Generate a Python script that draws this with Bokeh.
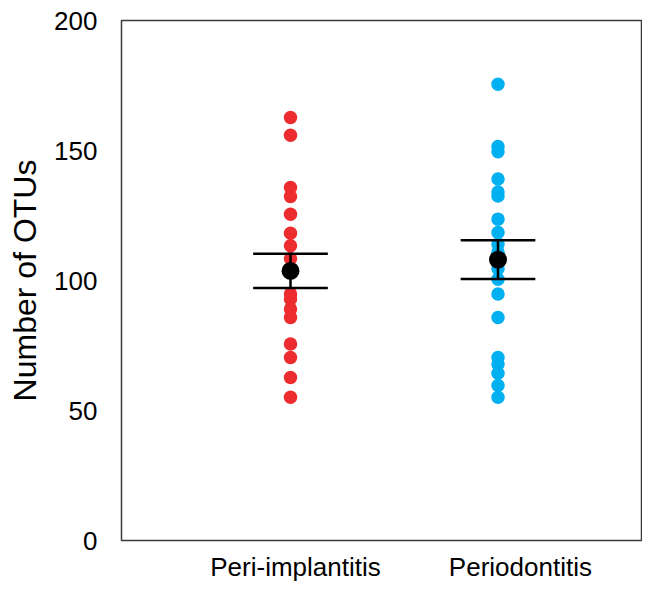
from bokeh.plotting import figure
from bokeh.models import FixedTicker, Range1d
from bokeh.embed import file_html
from bokeh.resources import INLINE

# ---- data ----
categories = ["Peri-implantitis", "Periodontitis"]
peri_implantitis = [162.7, 155.9, 135.8, 132.3, 125.5, 118.2, 113.4, 108.4,
                    94.8, 92.9, 89.0, 85.8, 75.6, 70.4, 62.7, 55.1]
periodontitis = [175.5, 151.5, 149.5, 139.0, 134.0, 132.5, 123.6, 118.5, 114.0,
                 111.0, 104.5, 100.5, 94.8, 85.8, 70.4, 67.9, 64.3, 59.6, 55.1]
group_means = [103.7, 108.0]
group_sems = [6.55, 7.45]
y_ticks = [0, 50, 100, 150, 200]

# ---- layout / style ----
FONT = "Liberation Sans"
colors = ["#ED2C2F", "#00B0F0"]
xpos = [1, 2]
label_pos = [1.024, 2.108]
cap_half = 0.18
X0, X1 = 0.1855, 2.6916

p = figure(width=642, height=584, output_backend="svg", toolbar_location=None,
           x_range=Range1d(X0, X1), y_range=Range1d(0, 200),
           min_border_left=121, min_border_right=1, min_border_top=20,
           min_border_bottom=44)

p.xgrid.visible = False
p.ygrid.visible = False
p.outline_line_color = "#3a3a3a"
p.outline_line_width = 1.5
p.background_fill_color = "white"
p.border_fill_color = "white"

for ax in (p.xaxis[0], p.yaxis[0]):
    ax.axis_line_color = None
    ax.major_tick_line_color = None
    ax.minor_tick_line_color = None
    ax.major_tick_out = 0
    ax.major_tick_in = 0
    ax.major_label_text_font = FONT
    ax.major_label_text_font_size = "26px"
    ax.major_label_text_color = "black"

p.yaxis.ticker = FixedTicker(ticks=y_ticks)
p.yaxis.major_label_standoff = 24
p.yaxis.axis_label = "Number of OTUs"
p.yaxis.axis_label_text_font = FONT
p.yaxis.axis_label_text_font_size = "32px"
p.yaxis.axis_label_text_font_style = "normal"
p.yaxis.axis_label_text_color = "black"
p.yaxis.axis_label_standoff = 8

p.xaxis.ticker = FixedTicker(ticks=label_pos)
p.xaxis.major_label_overrides = {lp: c for lp, c in zip(label_pos, categories)}
p.xaxis.major_label_standoff = 11

# points
for x, vals, col in zip(xpos, [peri_implantitis, periodontitis], colors):
    p.scatter([x] * len(vals), vals, size=13.5, fill_color=col, line_color=None)

# error bars (mean +/- SEM)
lo = [m - s for m, s in zip(group_means, group_sems)]
hi = [m + s for m, s in zip(group_means, group_sems)]
p.segment(xpos, lo, xpos, hi, line_color="black", line_width=2.5)
p.segment([x - cap_half for x in xpos], hi, [x + cap_half for x in xpos], hi,
          line_color="black", line_width=2.5)
p.segment([x - cap_half for x in xpos], lo, [x + cap_half for x in xpos], lo,
          line_color="black", line_width=2.5)
p.scatter(xpos, group_means, size=18, fill_color="black", line_color=None)

open("out.html", "w").write(file_html(p, INLINE))
